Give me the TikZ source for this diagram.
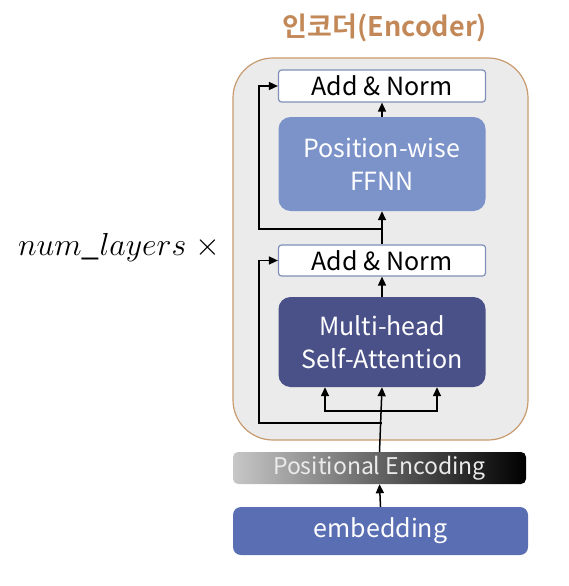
\documentclass[tikz,border=0pt]{standalone}
\usepackage{fontspec}
\setmainfont{Noto Sans CJK KR}[BoldFont={Noto Sans CJK KR Bold}]
\usetikzlibrary{arrows.meta}

\definecolor{encfill}{HTML}{EBEBEB}
\definecolor{encline}{HTML}{C99A6E}
\definecolor{enctitle}{HTML}{C38858}
\definecolor{addline}{HTML}{7F8FB8}
\definecolor{ffnnfill}{HTML}{7C93C9}
\definecolor{mhsafill}{HTML}{4A5189}
\definecolor{embfill}{HTML}{5A6EB4}

\tikzset{
    arr/.style={line width=1.5pt,-{Triangle[length=9pt,width=8pt]}},
    addbox/.style={draw=addline,line width=1.2pt,fill=white,rounded corners=3pt,
        minimum width=207pt,minimum height=32pt,inner sep=0pt,font=\fontsize{25}{28}\selectfont},
    layerbox/.style={rounded corners=12pt,minimum width=207pt,inner sep=0pt,
        text=white,align=center,font=\fontsize{25}{33}\selectfont},
}

\begin{document}
\begin{tikzpicture}[x=1pt,y=-1pt]
    \useasboundingbox (0,0) rectangle (568,586);
    % encoder block
    \node[draw=encline,fill=encfill,line width=1.2pt,rounded corners=40pt,
        minimum width=295pt,minimum height=382pt] (enc) at (380.5,249) {};
    \node[text=enctitle,font=\bfseries\fontsize{27}{30}\selectfont] (title) at (385,28) {인코더(Encoder)};
    \node[scale=1.28,font=\fontsize{24.88}{28}\selectfont] (num) at (119,248) {$num\_layers\;\times$};

    \node[addbox] (addtop) at (382,86) {Add \& Norm};
    \node[layerbox,fill=ffnnfill,minimum height=94pt] (ffnn) at (382,164) {Position-wise\\FFNN};
    \node[addbox,minimum height=31pt] (addbot) at (382,260.5) {Add \& Norm};
    \node[layerbox,fill=mhsafill,minimum height=90pt] (mhsa) at (382,342) {Multi-head\\Self-Attention};

    % input
    \node[left color=black!22,right color=black,shading angle=90,rounded corners=5pt,
        minimum width=293pt,minimum height=32pt,inner sep=0pt,text=black!8,
        font=\fontsize{23}{26}\selectfont] (pe) at (379.5,468) {Positional Encoding};
    \node[layerbox,fill=embfill,rounded corners=8pt,minimum width=295pt,minimum height=48pt] (emb) at (380.5,531) {embedding};

    % connectors
    \coordinate (fork) at (382,411);
    \coordinate (res1) at (382,423);
    \coordinate (res2) at (382,229);
    \draw[arr] (emb.north) -- (pe.south);
    \draw[arr] (pe.north) -- (mhsa.south);
    \draw[arr] (fork) -| ([xshift=-57pt]mhsa.south);
    \draw[arr] (fork) -| ([xshift=55pt]mhsa.south);
    \draw[arr] (res1) -- ++(-123,0) |- (addbot.west);
    \draw[arr] (mhsa.north) -- (addbot.south);
    \draw[arr] (addbot.north) -- (ffnn.south);
    \draw[arr] (res2) -- ++(-123,0) |- (addtop.west);
    \draw[arr] (ffnn.north) -- (addtop.south);
\end{tikzpicture}
\end{document}
